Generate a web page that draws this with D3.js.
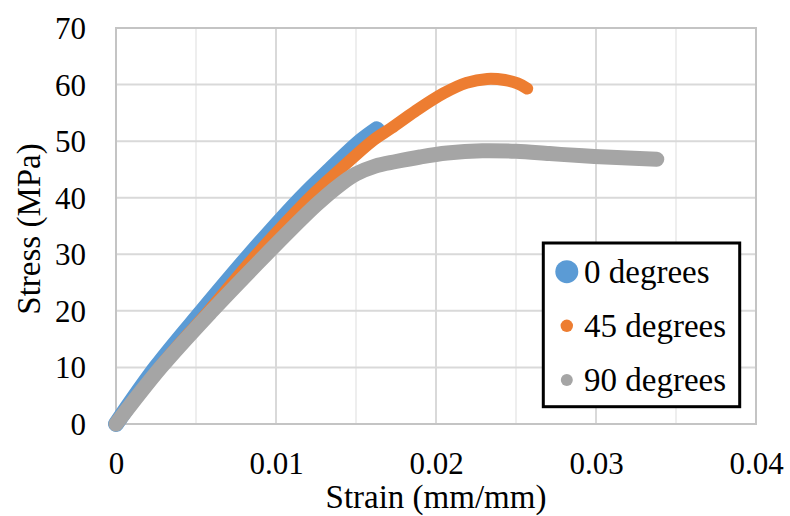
<!DOCTYPE html>
<html>
<head>
<meta charset="utf-8">
<script src="https://cdn.jsdelivr.net/npm/d3@7"></script>
</head>
<body style="margin:0;padding:0;background:#ffffff;">
<script>
// ---- data ----
const seriesNames = ["0 degrees", "45 degrees", "90 degrees"];
const seriesColors = ["#5B9BD5", "#ED7D31", "#A5A5A5"];

const strain0 = [0, 0.0025, 0.0054, 0.0084, 0.0116, 0.0134, 0.0153, 0.0163];
const stress0 = [0, 10, 20, 30, 40, 45, 50, 52.1];

const strain45 = [0, 0.0027, 0.0058, 0.0088, 0.0121, 0.0140, 0.0160, 0.0172, 0.0187, 0.0205, 0.0219, 0.0232, 0.0243, 0.0251, 0.0257];
const stress45 = [0, 10, 20, 30, 40, 45, 50, 52.3, 55.3, 58.5, 60.3, 61.0, 60.8, 60.2, 59.3];

const strain90 = [0, 0.0028, 0.0060, 0.0094, 0.0125, 0.0140, 0.0150, 0.0162, 0.0175, 0.0190, 0.0207, 0.0229, 0.0250, 0.0271, 0.0292, 0.0313, 0.0338];
const stress90 = [0, 10, 20, 30, 38.7, 42.3, 44.2, 45.6, 46.4, 47.2, 47.9, 48.3, 48.2, 47.8, 47.4, 47.1, 46.8];

const xTickValues = [0, 0.01, 0.02, 0.03, 0.04];
const xTickLabels = ["0", "0.01", "0.02", "0.03", "0.04"];
const xMinorValues = [0.005, 0.015, 0.025, 0.035];
const yTickValues = [0, 10, 20, 30, 40, 50, 60, 70];
const yTickLabels = ["0", "10", "20", "30", "40", "50", "60", "70"];

const xTitle = "Strain (mm/mm)";
const yTitle = "Stress (MPa)";

// ---- layout ----
const W = 790, H = 516;
const L = 116, R = 756, T = 28, B = 424;
const FONT = "Liberation Serif";

const svg = d3.select("body").append("svg").attr("width", W).attr("height", H)
  .style("display", "block");

const x = d3.scaleLinear().domain([0, 0.04]).range([L, R]);
const y = d3.scaleLinear().domain([0, 70]).range([B, T]);

function serif(sel, size) {
  return sel.attr("font-family", FONT).attr("font-size", size).attr("fill", "#000");
}

// gridlines
const grid = svg.append("g");
grid.selectAll("line.minor").data(xMinorValues).join("line")
  .attr("x1", d => x(d)).attr("x2", d => x(d)).attr("y1", T).attr("y2", B)
  .attr("stroke", "#EEEEEE").attr("stroke-width", 2);
grid.selectAll("line.vmaj").data(xTickValues.slice(1, -1)).join("line")
  .attr("x1", d => x(d)).attr("x2", d => x(d)).attr("y1", T).attr("y2", B)
  .attr("stroke", "#D9D9D9").attr("stroke-width", 2);
grid.selectAll("line.hmaj").data(yTickValues.slice(1, -1)).join("line")
  .attr("x1", L).attr("x2", R).attr("y1", d => y(d)).attr("y2", d => y(d))
  .attr("stroke", "#D9D9D9").attr("stroke-width", 2);
grid.append("rect").attr("x", L).attr("y", T).attr("width", R - L).attr("height", B - T)
  .attr("fill", "none").attr("stroke", "#C4C4C4").attr("stroke-width", 2);

// axes (labels only)
const xAxis = d3.axisBottom(x).tickValues(xTickValues)
  .tickFormat((d, i) => xTickLabels[i]).tickSize(0);
const gx = svg.append("g").attr("transform", `translate(0,${B})`).call(xAxis);
gx.attr("font-family", FONT).attr("font-size", 31);
gx.select(".domain").remove();
serif(gx.selectAll("text"), 31).attr("y", 50).attr("dy", 0);

const yAxis = d3.axisLeft(y).tickValues(yTickValues)
  .tickFormat((d, i) => yTickLabels[i]).tickSize(0);
const gy = svg.append("g").attr("transform", `translate(${L},0)`).call(yAxis);
gy.attr("font-family", FONT).attr("font-size", 31);
gy.select(".domain").remove();
serif(gy.selectAll("text"), 31).attr("x", -30).attr("dy", "0.34em");

// axis titles
serif(svg.append("text"), 33).attr("x", (L + R) / 2).attr("y", 508)
  .attr("text-anchor", "middle").text(xTitle);
serif(svg.append("text"), 33).attr("transform", "translate(40,229) rotate(-90)")
  .attr("text-anchor", "middle").text(yTitle);

// series
const widths = [16, 12, 15];
const line = d3.line().x(d => x(d[0])).y(d => y(d[1])).curve(d3.curveCatmullRom.alpha(0.5));
const seriesData = [[strain0, stress0], [strain45, stress45], [strain90, stress90]];
seriesData.forEach((s, i) => {
  const pts = s[0].map((v, j) => [v, s[1][j]]);
  svg.append("path").datum(pts).attr("d", line)
    .attr("fill", "none").attr("stroke", seriesColors[i]).attr("stroke-width", widths[i])
    .attr("stroke-linecap", "round").attr("stroke-linejoin", "round");
});

// legend
const lg = svg.append("g");
lg.append("rect").attr("x", 543.3).attr("y", 243).attr("width", 196.4).attr("height", 163.7)
  .attr("fill", "#fff").attr("stroke", "#000").attr("stroke-width", 3);
const markerR = [11.5, 6.2, 6];
const rowY = [271.7, 325.8, 380];
seriesNames.forEach((n, i) => {
  lg.append("circle").attr("cx", 566.8).attr("cy", rowY[i]).attr("r", markerR[i]).attr("fill", seriesColors[i]);
  serif(lg.append("text"), 33).attr("x", 584).attr("y", rowY[i] + 11).text(n);
});
</script>
</body>
</html>
